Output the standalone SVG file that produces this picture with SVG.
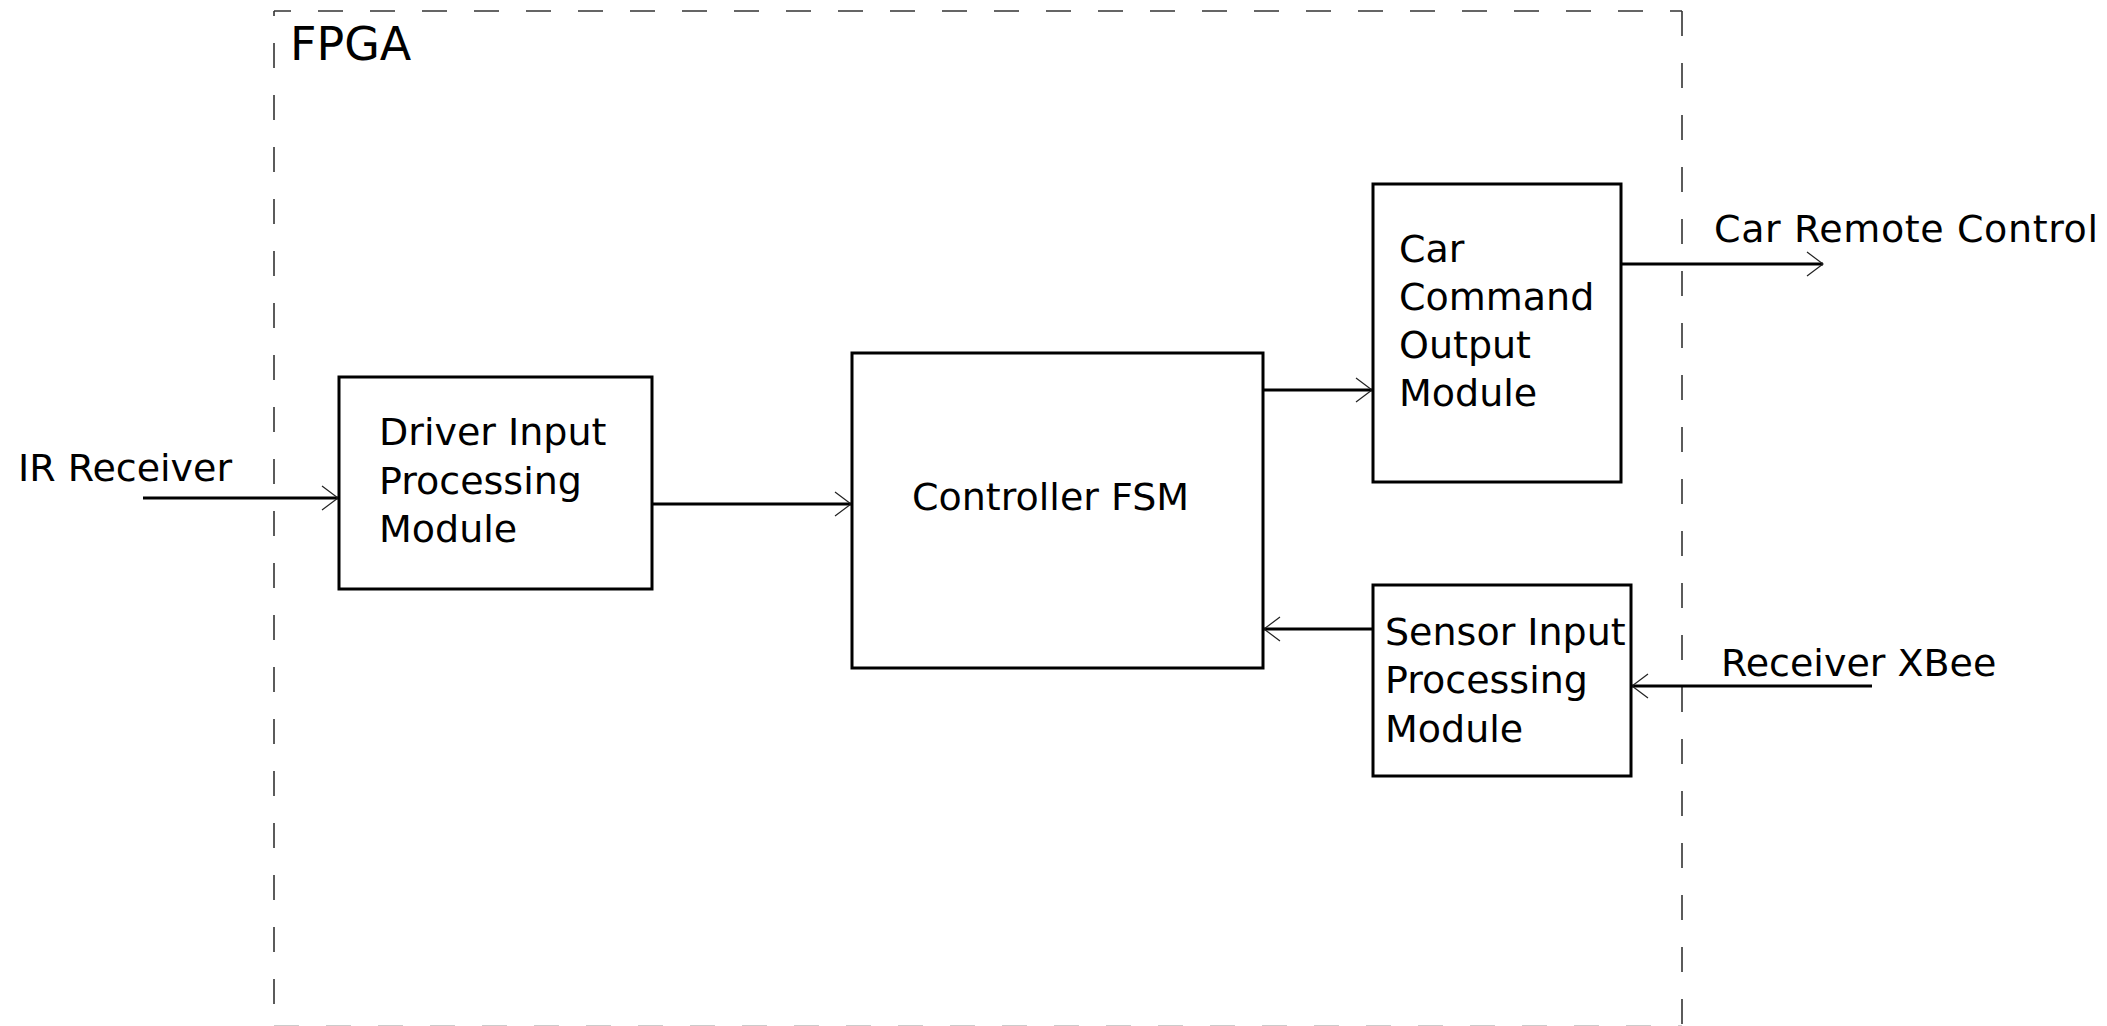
<svg xmlns="http://www.w3.org/2000/svg" width="2107" height="1026" viewBox="0 0 2107 1026">
<defs>
<style>
text{font-family:"DejaVu Sans","Liberation Sans",sans-serif;font-size:38px;fill:#000}
.box{fill:#fff;stroke:#000;stroke-width:3}
.frame{stroke:#333;stroke-width:1.6;stroke-dasharray:25 27;fill:none}
.conn{stroke:#000;stroke-width:3;fill:none;marker-end:url(#arrow)}
</style>
<marker id="arrow" markerUnits="userSpaceOnUse" viewBox="-18 -14 20 28" refX="0" refY="0" markerWidth="20" markerHeight="28" orient="auto" overflow="visible">
<path d="M-16,-12 L0,0 L-16,12" fill="none" stroke="#222" stroke-width="1.2"/>
</marker>
</defs>
<rect width="2107" height="1026" fill="#fff"/>
<g id="fpga">
<line class="frame" x1="274" y1="11" x2="1682" y2="11" stroke-dashoffset="8"/>
<line class="frame" x1="274" y1="11" x2="274" y2="1026" stroke-dashoffset="20"/>
<line class="frame" x1="1682" y1="11" x2="1682" y2="1026"/>
<line class="frame" x1="274" y1="1026.5" x2="1682" y2="1026.5"/>
<text x="290" y="60" style="font-size:46px">FPGA</text>
</g>
<g id="connectors">
<line class="conn" x1="143" y1="498" x2="338" y2="498"/>
<line class="conn" x1="652" y1="504" x2="851" y2="504"/>
<line class="conn" x1="1263" y1="390" x2="1372" y2="390"/>
<line class="conn" x1="1373" y1="629" x2="1264" y2="629"/>
<line class="conn" x1="1621" y1="264" x2="1823" y2="264"/>
<line class="conn" x1="1872" y1="686" x2="1632" y2="686"/>
</g>
<g id="driver-input">
<rect class="box" x="339" y="377" width="313" height="212"/>
<text x="379" y="445">Driver Input</text>
<text x="379" y="494">Processing</text>
<text x="379" y="542">Module</text>
</g>
<g id="controller-fsm">
<rect class="box" x="852" y="353" width="411" height="315"/>
<text x="912" y="510">Controller FSM</text>
</g>
<g id="car-command">
<rect class="box" x="1373" y="184" width="248" height="298"/>
<text x="1399" y="262">Car</text>
<text x="1399" y="310">Command</text>
<text x="1399" y="358">Output</text>
<text x="1399" y="406">Module</text>
</g>
<g id="sensor-input">
<rect class="box" x="1373" y="585" width="258" height="191"/>
<text x="1385" y="645">Sensor Input</text>
<text x="1385" y="693">Processing</text>
<text x="1385" y="742">Module</text>
</g>
<g id="ir-receiver"><text x="18" y="481">IR Receiver</text></g>
<g id="car-remote"><text x="1714" y="242" textLength="384" lengthAdjust="spacing">Car Remote Control</text></g>
<g id="receiver-xbee"><text x="1721" y="676">Receiver XBee</text></g>
</svg>
